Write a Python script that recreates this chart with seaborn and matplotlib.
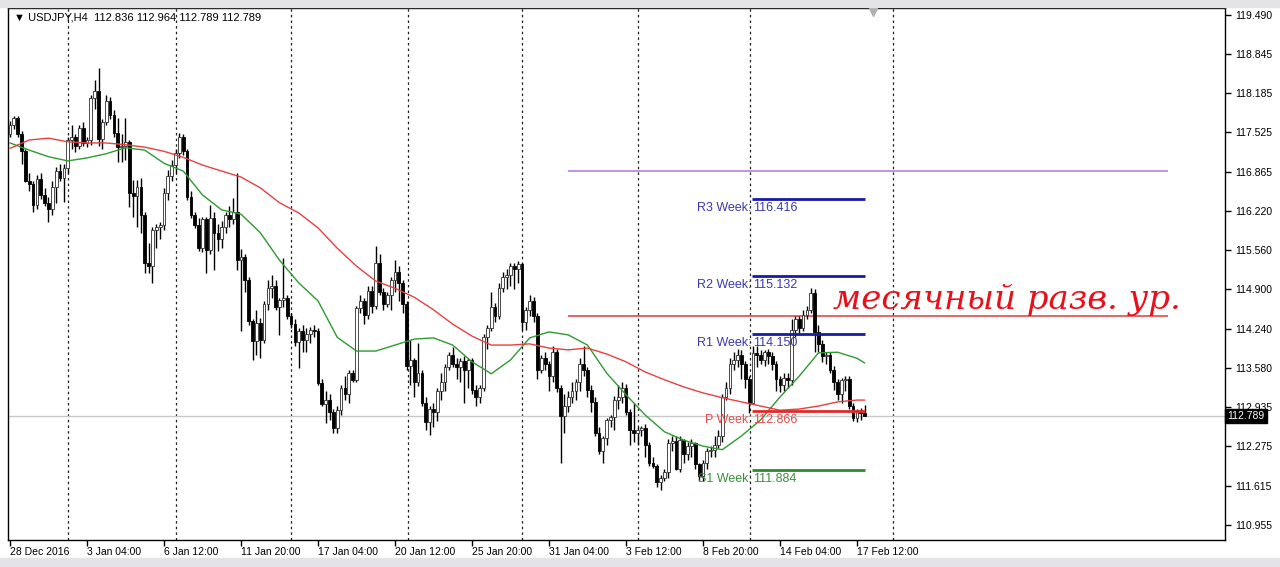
import matplotlib
matplotlib.use("Agg")
import matplotlib.pyplot as plt
import matplotlib.transforms as mtransforms
from matplotlib.patches import Rectangle
import numpy as np
import pandas as pd
import seaborn as sns

# USDJPY H4 candles, bar 0 = 28 Dec 2016 20:00
opens = [
    117.50, 117.65, 117.76, 117.50, 117.22, 116.72, 116.66, 116.32, 116.75, 116.48,
    116.35, 116.25, 116.62, 116.88, 116.76, 116.93, 117.40, 117.45, 117.30, 117.60,
    117.35, 117.40, 118.10, 118.22, 117.42, 117.70, 118.05, 117.82, 117.52, 117.28,
    117.30, 117.36, 116.52, 116.46, 116.62, 116.15, 115.34, 115.30, 115.90, 115.95,
    115.98, 116.52, 116.80, 116.98, 117.18, 117.45, 117.22, 116.45, 116.15, 115.98,
    115.60, 116.08, 115.56, 116.10, 115.85, 115.75, 115.95, 116.15, 116.08, 116.20,
    115.40, 115.45, 115.06, 114.38, 114.03, 114.34, 114.05, 114.65, 114.92, 114.95,
    114.60, 114.72, 114.75, 114.45, 114.32, 114.02, 114.20, 114.05, 114.15, 114.22,
    114.20, 113.34, 112.98, 113.05, 112.85, 112.58, 112.88, 113.25, 113.15, 113.50,
    113.38, 114.59, 114.70, 114.48, 114.88, 114.62, 115.35, 114.85, 114.65, 114.80,
    115.05, 115.20, 115.00, 114.65, 113.62, 113.72, 113.35, 113.50, 113.00, 112.68,
    112.90, 112.85, 113.20, 113.35, 113.60, 113.80, 113.65, 113.60, 113.70, 113.55,
    113.72, 113.22, 113.10, 113.25, 114.10, 114.25, 114.60, 114.45, 114.92, 115.10,
    115.15, 115.30, 115.25, 115.32, 114.36, 114.55, 114.70, 114.45, 113.55, 113.75,
    113.65, 113.45, 113.85, 113.25, 112.78, 112.95, 113.10, 113.20, 113.35, 113.65,
    113.55, 113.22, 113.02, 112.50, 112.20, 112.42, 112.72, 112.76, 113.05, 113.10,
    113.25, 112.85, 112.55, 112.50, 112.55, 112.58, 112.30, 112.00, 111.95, 111.68,
    111.75, 111.85, 112.33, 112.36, 111.90, 112.38, 112.15, 112.28, 112.33, 111.98,
    111.78, 112.00, 112.20, 112.22, 112.30, 112.45, 113.10, 113.25, 113.65, 113.72,
    113.80, 113.65, 113.40, 113.00, 113.84, 113.80, 113.72, 113.85, 113.78, 113.65,
    113.40, 113.30, 113.42, 113.38, 114.22, 114.40, 114.25, 114.48, 114.55, 114.84,
    114.19, 113.98, 113.78, 113.80, 113.55, 113.35, 113.15, 113.38, 113.40, 112.95,
    112.75, 112.85, 112.836,
]
highs = [
    117.72, 117.80, 117.80, 117.55, 117.25, 116.85, 116.72, 116.82, 116.85, 116.60,
    116.45, 116.72, 116.95, 117.00, 117.00, 117.45, 117.65, 117.50, 117.65, 117.70,
    117.45, 118.15, 118.40, 118.60, 117.75, 118.15, 118.12, 117.90, 117.77, 117.50,
    117.77, 117.40, 116.73, 116.73, 116.76, 116.20, 115.68, 115.95, 116.00, 116.02,
    116.60, 116.90, 117.06, 117.25, 117.52, 117.50, 117.25, 116.55, 116.20, 116.10,
    116.12, 116.12, 116.32, 116.20, 116.00, 116.05, 116.20, 116.30, 116.43, 116.85,
    115.58, 115.50, 115.10, 114.40, 114.55, 114.42, 114.70, 115.05, 115.14, 115.05,
    114.75, 115.43, 114.80, 114.50, 114.40, 114.25, 114.30, 114.25, 114.28, 114.30,
    114.25, 113.40, 113.20, 113.15, 112.90, 112.95, 113.30, 113.45, 113.55, 113.55,
    114.62, 114.80, 114.75, 114.95, 114.95, 115.62, 115.50, 114.92, 114.85, 115.10,
    115.40, 115.30, 115.05, 114.70, 114.05, 113.75, 114.00, 113.55, 113.10, 112.95,
    113.00, 113.25, 113.50, 113.65, 113.85, 113.94, 113.75, 113.75, 113.78, 113.75,
    113.76, 113.30, 113.30, 114.15, 114.30, 114.85, 114.68, 115.00, 115.20, 115.25,
    115.34, 115.35, 115.38, 115.35, 114.60, 114.80, 114.78, 114.50, 113.80, 113.85,
    113.70, 113.95, 113.90, 113.30, 113.15, 113.20, 113.35, 113.40, 113.75, 113.95,
    113.60, 113.30, 113.10, 112.60, 112.45, 112.75, 112.80, 113.12, 113.30, 113.35,
    113.32, 112.90, 113.00, 112.60, 112.62, 112.65, 112.35, 112.10, 111.98, 111.80,
    111.90, 112.40, 112.45, 112.45, 112.45, 112.40, 112.35, 112.40, 112.35, 112.00,
    112.05, 112.25, 112.28, 112.45, 112.55, 113.15, 113.35, 113.75, 113.85, 113.90,
    113.88, 113.70, 113.45, 113.95, 113.95, 113.88, 113.88, 113.90, 113.85, 113.70,
    113.45, 113.50, 113.50, 114.40, 114.45, 114.45, 114.55, 114.62, 114.93, 114.90,
    114.30, 114.05, 113.85, 113.85, 113.62, 113.40, 113.42, 113.45, 113.45, 113.00,
    112.90, 112.92, 112.964,
]
lows = [
    117.45, 117.58, 117.45, 117.00, 116.70, 116.55, 116.20, 116.25, 116.42, 116.30,
    116.02, 116.15, 116.35, 116.72, 116.36, 116.85, 117.25, 117.20, 117.25, 117.30,
    117.28, 117.32, 117.92, 117.30, 117.25, 117.65, 117.75, 117.45, 117.03, 117.03,
    117.06, 116.28, 116.11, 115.95, 115.85, 115.17, 115.17, 115.00, 115.60, 115.75,
    115.90, 116.40, 116.72, 116.85, 117.10, 117.15, 116.40, 116.10, 115.93, 115.55,
    115.53, 115.17, 115.50, 115.23, 115.55, 115.60, 115.85, 115.95, 116.00, 115.23,
    114.20, 114.85, 114.30, 113.72, 113.80, 113.75, 114.00, 114.55, 114.75, 114.55,
    114.14, 114.60, 114.40, 114.25, 113.95, 113.59, 113.85, 113.85, 114.00, 114.10,
    113.30, 112.95, 112.67, 112.72, 112.50, 112.50, 112.80, 113.05, 113.00, 113.35,
    113.35, 114.50, 114.32, 114.40, 114.50, 114.58, 114.80, 114.55, 114.60, 114.55,
    114.85, 114.70, 114.50, 113.55, 113.30, 113.10, 113.28, 112.95, 112.55, 112.47,
    112.60, 112.70, 113.05, 113.20, 113.55, 113.60, 113.40, 113.35, 113.00, 113.25,
    113.15, 112.95, 113.00, 113.20, 113.90, 114.20, 114.35, 114.40, 114.85, 114.90,
    114.95, 114.90, 115.00, 114.22, 114.22, 114.45, 114.35, 113.40, 113.50, 113.55,
    113.20, 113.35, 113.18, 112.00, 112.50, 112.85, 113.00, 113.05, 113.20, 113.45,
    113.10, 112.85, 112.45, 112.15, 111.99, 112.30, 112.60, 112.55, 112.90, 113.00,
    112.80, 112.30, 112.35, 112.30, 112.45, 112.10, 111.95, 111.92, 111.60, 111.55,
    111.70, 111.75, 112.20, 111.88, 111.85, 112.00, 112.05, 112.10, 111.90, 111.70,
    111.70, 111.90, 112.10, 112.10, 112.25, 112.35, 113.05, 113.15, 113.55, 113.60,
    113.40, 113.25, 112.83, 112.98, 113.60, 113.65, 113.62, 113.65, 113.55, 113.20,
    113.18, 113.20, 113.25, 113.30, 114.10, 114.18, 114.20, 114.40, 114.50, 113.85,
    113.85, 113.68, 113.65, 113.50, 113.22, 113.05, 113.00, 113.20, 112.90, 112.70,
    112.68, 112.72, 112.789,
]
closes = [
    117.65, 117.76, 117.50, 117.22, 116.72, 116.66, 116.32, 116.75, 116.48, 116.35,
    116.25, 116.62, 116.88, 116.76, 116.93, 117.40, 117.45, 117.30, 117.60, 117.35,
    117.40, 118.10, 118.22, 117.42, 117.70, 118.05, 117.82, 117.52, 117.28, 117.30,
    117.36, 116.52, 116.46, 116.62, 116.15, 115.34, 115.30, 115.90, 115.95, 115.98,
    116.52, 116.80, 116.98, 117.18, 117.45, 117.22, 116.45, 116.15, 115.98, 115.60,
    116.08, 115.56, 116.10, 115.85, 115.75, 115.95, 116.15, 116.08, 116.20, 115.40,
    115.45, 115.06, 114.38, 114.03, 114.34, 114.05, 114.65, 114.92, 114.95, 114.60,
    114.72, 114.75, 114.45, 114.32, 114.02, 114.20, 114.05, 114.15, 114.22, 114.20,
    113.34, 112.98, 113.05, 112.85, 112.58, 112.88, 113.25, 113.15, 113.50, 113.38,
    114.59, 114.70, 114.48, 114.88, 114.62, 115.35, 114.85, 114.65, 114.80, 115.05,
    115.20, 115.00, 114.65, 113.62, 113.72, 113.35, 113.50, 113.00, 112.68, 112.90,
    112.85, 113.20, 113.35, 113.60, 113.80, 113.65, 113.60, 113.70, 113.55, 113.72,
    113.22, 113.10, 113.25, 114.10, 114.25, 114.60, 114.45, 114.92, 115.10, 115.15,
    115.30, 115.25, 115.32, 114.36, 114.55, 114.70, 114.45, 113.55, 113.75, 113.65,
    113.45, 113.85, 113.25, 112.78, 112.95, 113.10, 113.20, 113.35, 113.65, 113.55,
    113.22, 113.02, 112.50, 112.20, 112.42, 112.72, 112.76, 113.05, 113.10, 113.25,
    112.85, 112.55, 112.50, 112.55, 112.58, 112.30, 112.00, 111.95, 111.68, 111.75,
    111.85, 112.33, 112.36, 111.90, 112.38, 112.15, 112.28, 112.33, 111.98, 111.78,
    112.00, 112.20, 112.22, 112.30, 112.45, 113.10, 113.25, 113.65, 113.72, 113.80,
    113.65, 113.40, 113.00, 113.84, 113.80, 113.72, 113.85, 113.78, 113.65, 113.40,
    113.30, 113.42, 113.38, 114.22, 114.40, 114.25, 114.48, 114.55, 114.84, 114.19,
    113.98, 113.78, 113.80, 113.55, 113.35, 113.15, 113.38, 113.40, 112.95, 112.75,
    112.85, 112.836, 112.789,
]

# moving averages, read every 5 bars
ma_bars = [0, 5, 10, 15, 20, 25, 30, 35, 40, 45, 50, 55, 60, 65, 70, 75, 80, 85, 90, 95,
           100, 105, 110, 115, 120, 125, 130, 135, 140, 145, 150, 155, 160, 165, 170, 175,
           180, 185, 190, 195, 200, 205, 210, 215, 220, 222]
ma_fast = [117.35, 117.23, 117.12, 117.05, 117.10, 117.17, 117.27, 117.23, 117.01, 116.88,
           116.48, 116.23, 116.16, 115.85, 115.39, 115.01, 114.71, 114.10, 113.87, 113.87,
           113.97, 114.07, 114.09, 113.97, 113.69, 113.49, 113.72, 114.09, 114.19, 114.14,
           113.97, 113.50, 113.14, 112.80, 112.52, 112.38, 112.28, 112.22, 112.45, 112.72,
           113.10, 113.45, 113.84, 113.85, 113.75, 113.67]
ma_slow = [117.26, 117.40, 117.43, 117.37, 117.35, 117.35, 117.32, 117.28, 117.21, 117.11,
           116.98, 116.88, 116.78, 116.60, 116.35, 116.18, 115.93, 115.59, 115.29, 115.04,
           114.92, 114.77, 114.56, 114.32, 114.12, 113.97, 113.97, 113.99, 113.92, 113.89,
           113.92, 113.82, 113.69, 113.52, 113.39, 113.27, 113.17, 113.09, 113.02, 112.95,
           112.88, 112.90, 112.95, 113.02, 113.05, 113.05]

price_ticks = [119.490, 118.845, 118.185, 117.525, 116.865, 116.220, 115.560,
               114.900, 114.240, 113.580, 112.935, 112.275, 111.615, 110.955]
date_bars = [0, 20, 40, 60, 80, 100, 120, 140, 160, 180, 200, 220]
date_labels = ["28 Dec 2016", "3 Jan 04:00", "6 Jan 12:00", "11 Jan 20:00",
               "17 Jan 04:00", "20 Jan 12:00", "25 Jan 20:00", "31 Jan 04:00",
               "3 Feb 12:00", "8 Feb 20:00", "14 Feb 04:00", "17 Feb 12:00"]
grid_bars = [15.1, 43.1, 73.0, 103.4, 133.0, 163.1, 192.2, 229.4]

pivot_names = ["R3 Week:", "R2 Week:", "R1 Week:", "P Week:", "S1 Week:"]
pivot_values = [116.416, 115.132, 114.150, 112.866, 111.884]
pivot_line_colors = ["#1a1aa8", "#1a1aa8", "#1a1aa8", "#e02a2a", "#2d8a2d"]
pivot_text_colors = ["#3a3ab0", "#3a3ab0", "#3a3ab0", "#e84a4a", "#3a8f3a"]
pivot_start, pivot_end = 192.7, 222.1

month_level = 116.88      # violet line
month_pivot = 114.46      # monthly pivot (red)
level_start, level_end = 144.9, 300.8
last_price = 112.789

df = pd.DataFrame({"open": opens, "high": highs, "low": lows, "close": closes})
df["bar"] = np.arange(len(df))
up = df["close"] >= df["open"]

sns.set_theme(style="white")
plt.rcParams["font.family"] = ["Liberation Sans", "DejaVu Sans"]

fig = plt.figure(figsize=(12.8, 5.67), dpi=100)
ax = fig.add_axes([8 / 1280, 27 / 567, 1217 / 1280, 532 / 567])
ax.set_xlim(-0.52, 315.6)
ax.set_ylim(110.71, 119.607)

# grid / period separators
for b in grid_bars:
    ax.axvline(b, color="#202020", lw=0.9, ls=(0, (2, 2.5)), zorder=1)
ax.axhline(last_price, color="#c8c8c8", lw=1, zorder=1)

# candles
ax.vlines(df["bar"], df["low"], df["high"], color="black", lw=1, zorder=3)
ax.bar(df.loc[up, "bar"], (df["close"] - df["open"])[up], bottom=df.loc[up, "open"],
       width=0.72, color="white", edgecolor="#303030", linewidth=0.6, zorder=4)
ax.bar(df.loc[~up, "bar"], (df["close"] - df["open"])[~up], bottom=df.loc[~up, "open"],
       width=0.72, color="black", edgecolor="black", linewidth=0.6, zorder=4)

# moving averages
sns.lineplot(x=ma_bars, y=ma_fast, ax=ax, color="#2f9a2f", lw=1, zorder=5)
sns.lineplot(x=ma_bars, y=ma_slow, ax=ax, color="#e84040", lw=1, zorder=5)

# monthly levels
ax.hlines(month_level, level_start, level_end, color="#b77fe6", lw=1.2, zorder=2)
ax.hlines(month_pivot, level_start, level_end, color="#e03a3a", lw=1.1, zorder=2)

# weekly pivots
ax.hlines(pivot_values, pivot_start, pivot_end, colors=pivot_line_colors, lw=2, zorder=6)
for name, val, col in zip(pivot_names, pivot_values, pivot_text_colors):
    ax.text(192.6, val - 0.15, name, ha="right", va="center", color=col, fontsize=9, zorder=7)
    ax.text(192.9, val - 0.15, f"{val:.3f}", ha="left", va="center", color=col, fontsize=9,
            zorder=7)

ax.text(213.8, 114.72, "месячный разв. ур.", family="DejaVu Serif", style="italic",
        fontsize=24.5, color="#e8101a", ha="left", va="center", zorder=7)

title = (f"\u25bc USDJPY,H4  {opens[-1]:.3f} {highs[-1]:.3f} "
         f"{lows[-1]:.3f} {closes[-1]:.3f}")
ax.text(0.005, 0.983, title, transform=ax.transAxes, fontsize=8, va="center",
        color="black", zorder=8)

# chart shift marker
ax.plot([224.2], [119.545], marker="v", color="#b0b0b0", ms=6, clip_on=False, zorder=8)

# axes styling
ax.yaxis.tick_right()
ax.set_yticks(price_ticks)
ax.set_yticklabels([f"{p:.3f}" for p in price_ticks])
ax.tick_params(axis="y", right=True, left=False, direction="out", length=4, width=1,
               colors="black", labelsize=7.5, pad=3)
ax.set_xticks(date_bars, date_labels)
ax.tick_params(axis="x", bottom=True, direction="out", length=4, width=1,
               colors="black", labelsize=7.5, pad=1)
for t in ax.get_xticklabels():
    t.set_ha("left")
for s in ax.spines.values():
    s.set_color("black")
    s.set_linewidth(1)
ax.grid(False)

trans = mtransforms.blended_transform_factory(ax.transAxes, ax.transData)
ax.text(1.002, last_price, f"{last_price:.3f}", transform=trans, ha="left", va="center",
        color="white", fontsize=7.5, clip_on=False, zorder=10,
        bbox=dict(boxstyle="square,pad=0.2", fc="black", ec="black"))

# window chrome strips
fig.patches.append(Rectangle((0, 560 / 567), 1, 7 / 567, transform=fig.transFigure,
                             color="#e4e3e8", zorder=0))
fig.patches.append(Rectangle((0, 0), 1, 9 / 567, transform=fig.transFigure,
                             color="#e4e3e8", zorder=0))

fig.savefig("out.png", dpi=100)
